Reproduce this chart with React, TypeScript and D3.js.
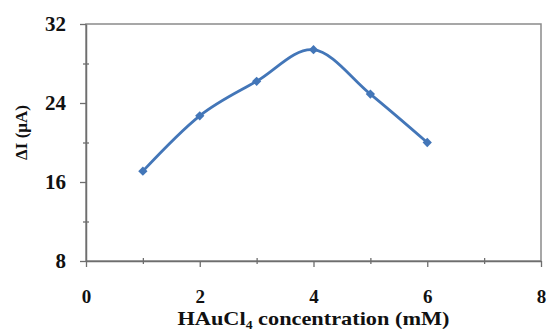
import { useRef, useEffect } from "react";
import * as d3 from "d3";

const concentrations = [1, 2, 3, 4, 5, 6];
const deltaI = [17.1, 22.7, 26.2, 29.4, 24.9, 20.0];
const xTicks = [0, 2, 4, 6, 8];
const xMinorTicks = [1, 3, 5, 7];
const yTicks = [8, 16, 24, 32];
const yMinorTicks = [12, 20, 28];

export default function App() {
  const svgRef = useRef<SVGSVGElement>(null);

  useEffect(() => {
    const svg = d3.select(svgRef.current);
    svg.selectAll("*").remove();

    const width = 547;
    const height = 331;
    const margin = { top: 24, right: 6, bottom: 70, left: 86 };
    const font = "'Liberation Serif', 'Times New Roman', serif";
    const axisColor = "#6e6e6e";
    const lineColor = "#4376b8";

    const x = d3.scaleLinear()
      .domain([0, 8])
      .range([margin.left, width - margin.right]);

    const y = d3.scaleLinear()
      .domain([8, 32])
      .range([height - margin.bottom, margin.top]);

    // Plot frame
    svg.append("rect")
      .attr("x", x(0))
      .attr("y", y(32))
      .attr("width", x(8) - x(0))
      .attr("height", y(8) - y(32))
      .attr("fill", "none")
      .attr("stroke", "#8a8a8a")
      .attr("stroke-width", 1.5);

    // Minor ticks (crossing the axis)
    svg.append("g")
      .attr("transform", `translate(0,${y(8) + 3})`)
      .call(d3.axisBottom(x).tickValues(xMinorTicks).tickSize(6).tickFormat(() => ""))
      .call(g => g.select(".domain").remove())
      .selectAll("line").attr("stroke", axisColor).attr("stroke-width", 1.3).attr("y1", -6).attr("y2", 0);

    svg.append("g")
      .attr("transform", `translate(${x(0) + 3},0)`)
      .call(d3.axisLeft(y).tickValues(yMinorTicks).tickSize(6).tickFormat(() => ""))
      .call(g => g.select(".domain").remove())
      .selectAll("line").attr("stroke", axisColor).attr("stroke-width", 1.3);

    // X axis
    const gx = svg.append("g")
      .attr("transform", `translate(0,${y(8)})`)
      .call(d3.axisBottom(x).tickValues(xTicks).tickSize(6).tickSizeOuter(0).tickPadding(23));
    gx.select(".domain").attr("stroke", axisColor).attr("stroke-width", 1.5);
    gx.selectAll("line").attr("stroke", axisColor).attr("stroke-width", 1.3);
    gx.selectAll("text")
      .style("font-family", font)
      .style("font-weight", "700")
      .style("font-size", "19px")
      .attr("fill", "#111");

    // Y axis
    const gy = svg.append("g")
      .attr("transform", `translate(${x(0)},0)`)
      .call(d3.axisLeft(y).tickValues(yTicks).tickSize(6).tickSizeOuter(0).tickPadding(14));
    gy.select(".domain").attr("stroke", axisColor).attr("stroke-width", 1.5);
    gy.selectAll("line").attr("stroke", axisColor).attr("stroke-width", 1.3);
    gy.selectAll("text")
      .style("font-family", font)
      .style("font-weight", "700")
      .style("font-size", "21px")
      .attr("fill", "#111");

    // X axis title
    const xt = svg.append("text")
      .attr("x", (x(0) + x(8)) / 2)
      .attr("y", 325)
      .attr("text-anchor", "middle")
      .attr("textLength", 272)
      .attr("lengthAdjust", "spacingAndGlyphs")
      .style("font-family", font)
      .style("font-weight", "700")
      .style("font-size", "19.5px")
      .attr("fill", "#111");
    xt.append("tspan").text("HAuCl");
    xt.append("tspan").attr("dy", 4).style("font-size", "12px").text("4");
    xt.append("tspan").attr("dy", -4).text(" concentration (mM)");

    // Y axis title
    svg.append("text")
      .attr("transform", `translate(27,${(y(8) + y(32)) / 2 - 10}) rotate(-90)`)
      .attr("text-anchor", "middle")
      .style("font-family", font)
      .style("font-weight", "700")
      .style("font-size", "17px")
      .attr("fill", "#111")
      .text("ΔI (μA)");

    const pts = concentrations.map((c, i) => [x(c), y(deltaI[i])] as [number, number]);

    const line = d3.line()
      .curve(d3.curveCatmullRom.alpha(0));

    svg.append("path")
      .attr("d", line(pts))
      .attr("fill", "none")
      .attr("stroke", lineColor)
      .attr("stroke-width", 2.8);

    svg.selectAll("path.marker")
      .data(pts)
      .enter()
      .append("path")
      .attr("class", "marker")
      .attr("transform", d => `translate(${d[0]},${d[1]})`)
      .attr("d", d3.symbol(d3.symbolDiamond2 ?? d3.symbolDiamond, 55))
      .attr("fill", lineColor);
  }, []);

  return (
    <svg
      ref={svgRef}
      width={547}
      height={331}
      style={{ position: "absolute", left: 0, top: 0, background: "#fff" }}
    />
  );
}
